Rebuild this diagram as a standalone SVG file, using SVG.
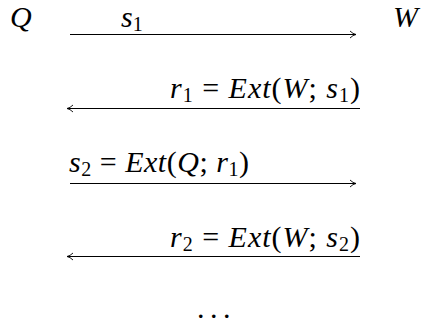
<svg xmlns="http://www.w3.org/2000/svg" width="422" height="324" viewBox="0 0 422 324">
<style>
.t{font-family:"Liberation Serif","Times New Roman",serif;font-size:30px;fill:#000}
.i{font-style:italic}
.sub{font-size:20px}
.ln{stroke:#000;stroke-width:1;fill:none}
</style>
<defs>
<marker id="ah" markerWidth="10" markerHeight="10" refX="8" refY="5" orient="auto-start-reverse" markerUnits="userSpaceOnUse">
<path d="M2,1.5 Q5,4.5 8,5 Q5,5.5 2,8.5" fill="none" stroke="#000" stroke-width="0.9"/>
</marker>
</defs>
<g id="node-Q"><text class="t i" x="10" y="27">Q</text></g>
<g id="node-W"><text class="t i" x="393" y="27">W</text></g>
<g id="connectors">
<line class="ln" x1="70" y1="34.5" x2="356" y2="34.5" marker-end="url(#ah)"/>
<line class="ln" x1="67" y1="108.5" x2="360" y2="108.5" marker-start="url(#ah)"/>
<line class="ln" x1="70" y1="183.5" x2="356" y2="183.5" marker-end="url(#ah)"/>
<line class="ln" x1="67" y1="256.5" x2="360" y2="256.5" marker-start="url(#ah)"/>
</g>
<g id="labels">
<text class="t" x="121" y="27"><tspan class="i">s</tspan><tspan class="sub" dy="4">1</tspan></text>
<text class="t" x="170" y="98" textLength="190" lengthAdjust="spacing"><tspan class="i">r</tspan><tspan class="sub" dy="4">1</tspan><tspan dy="-4"> = </tspan><tspan class="i">Ext</tspan>(<tspan class="i">W</tspan>; <tspan class="i">s</tspan><tspan class="sub" dy="4">1</tspan><tspan dy="-4">)</tspan></text>
<text class="t" x="69" y="172" textLength="180" lengthAdjust="spacing"><tspan class="i">s</tspan><tspan class="sub" dy="4">2</tspan><tspan dy="-4"> = </tspan><tspan class="i">Ext</tspan>(<tspan class="i">Q</tspan>; <tspan class="i">r</tspan><tspan class="sub" dy="4">1</tspan><tspan dy="-4">)</tspan></text>
<text class="t" x="170" y="247" textLength="190" lengthAdjust="spacing"><tspan class="i">r</tspan><tspan class="sub" dy="4">2</tspan><tspan dy="-4"> = </tspan><tspan class="i">Ext</tspan>(<tspan class="i">W</tspan>; <tspan class="i">s</tspan><tspan class="sub" dy="4">2</tspan><tspan dy="-4">)</tspan></text>
<text class="t" y="318"><tspan x="197">.</tspan><tspan x="210">.</tspan><tspan x="223">.</tspan></text>
</g>
</svg>
